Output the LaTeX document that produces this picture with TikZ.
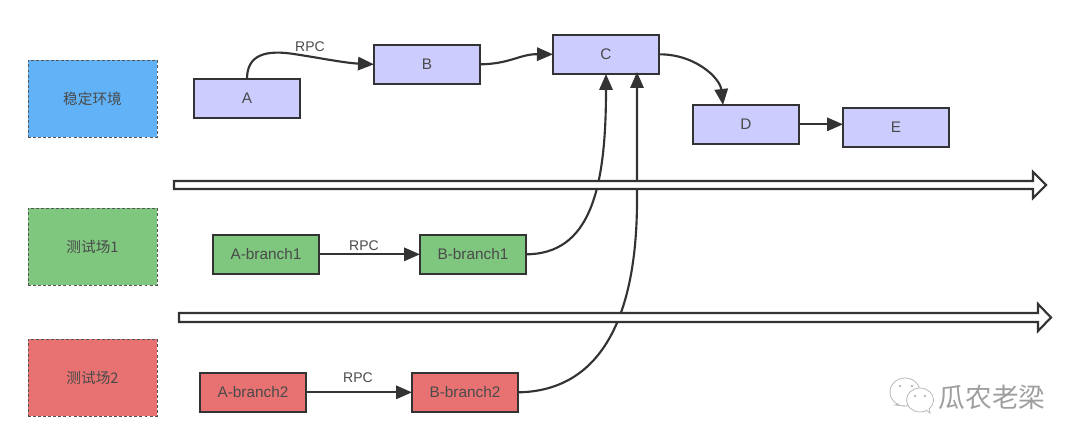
\documentclass[tikz,border=0pt]{standalone}
\usepackage{fontspec}
\setmainfont{Liberation Sans}
\newfontfamily\cjk{Noto Sans CJK SC}
\usetikzlibrary{arrows.meta}
\definecolor{ink}{HTML}{333333}
\definecolor{txt}{HTML}{4A4A4A}
\definecolor{dashc}{HTML}{555555}
\definecolor{lav}{HTML}{CCCCFF}
\definecolor{envblue}{HTML}{61B2F7}
\definecolor{envgreen}{HTML}{7FC77F}
\definecolor{envred}{HTML}{E87272}
\tikzset{
  x=0.75pt,y=-0.75pt,
  box/.style={draw=ink,line width=1.7pt,outer sep=0pt,minimum width=79.5pt,minimum height=29pt,inner sep=0pt,font=\fontsize{11.5pt}{13pt}\selectfont,text=txt,anchor=north west},
  env/.style={draw=dashc,dash pattern=on 2.2pt off 1.6pt,line width=0.7pt,outer sep=0pt,minimum width=96.75pt,minimum height=57.75pt,inner sep=0pt,font=\cjk\fontsize{11pt}{13pt}\selectfont,text=txt,anchor=north west},
  conn/.style={draw=ink,line width=1.6pt,-{Triangle[length=12pt,width=10pt]}},
  lbl/.style={font=\fontsize{10.5pt}{12pt}\selectfont,text=txt,inner sep=0pt},
  flat/.style={draw=ink,line width=1.6pt,fill=white,line join=miter},
  wmark/.style={font=\cjk\fontsize{20pt}{22pt}\selectfont,text=black!38,inner sep=0pt}
}
\begin{document}
\begin{tikzpicture}
\useasboundingbox (0,0) rectangle (1080,445);
\node[env,fill=envblue] (e1) at (28,60) {稳定环境};
\node[env,fill=envgreen] (e2) at (28,208) {测试场1};
\node[env,fill=envred] (e3) at (28,339) {测试场2};
\node[box,fill=lav] (A) at (194,79) {A};
\node[box,fill=lav] (B) at (374,45) {B};
\node[box,fill=lav] (C) at (553,35) {C};
\node[box,fill=lav] (D) at (693,105) {D};
\node[box,fill=lav] (E) at (843,108) {E};
\node[box,fill=envgreen] (A1) at (213,235) {A-branch1};
\node[box,fill=envgreen] (B1) at (420,235) {B-branch1};
\node[box,fill=envred] (A2) at (200,373) {A-branch2};
\node[box,fill=envred] (B2) at (412,373) {B-branch2};
\coordinate (Cb1) at (606,74);
\coordinate (Cb2) at (637,72);
\coordinate (Dt) at (723,105);
\coordinate (At) at (247,79);
\draw[conn] (At) .. controls (247,55) and (265,49) .. (297,54.5) .. controls (320,58) and (345,63) .. (B.west);
\draw[conn] (B.east) .. controls (510,64) and (520,54) .. (C.west);
\draw[conn] (C.east) .. controls (695,54) and (720,78) .. (Dt);
\draw[conn] (D.east) -- (D.east -| E.west);
\draw[conn] (A1) -- (B1);
\draw[conn] (A2) -- (B2);
\draw[conn] (B1.east) .. controls (590,254) and (606,190) .. (Cb1);
\draw[conn] (B2.east) .. controls (605,391) and (637,310) .. (637,200) -- (Cb2);
\node[lbl] (r1) at (310,47) {RPC};
\node[lbl] (r2) at (364,246) {RPC};
\node[lbl] (r3) at (358,378) {RPC};
\draw[flat] (174,181) -- (1033,181) -- (1033,172) -- (1046,185) -- (1033,198) -- (1033,189) -- (174,189) -- cycle;
\draw[flat] (179,313) -- (1038,313) -- (1038,304) -- (1051,317.5) -- (1038,331) -- (1038,322) -- (179,322) -- cycle;
\node[wmark] (w) at (992,397) {瓜农老梁};
\begin{scope}[draw=black!28,fill=white,line width=0.6pt]
\draw (905,392) circle[x radius=15,y radius=14];
\draw[fill=white] (899,404) -- (895,405) -- (905,406);
\draw[fill=white] (920,400) circle[x radius=13.5,y radius=12];
\draw[fill=white] (926,410) -- (930,413) -- (929,408);
\fill[black!28] (900,386) circle(1.3) (912,386) circle(1.3) (915,396) circle(1.3) (925,396) circle(1.3);
\end{scope}
\end{tikzpicture}
\end{document}
